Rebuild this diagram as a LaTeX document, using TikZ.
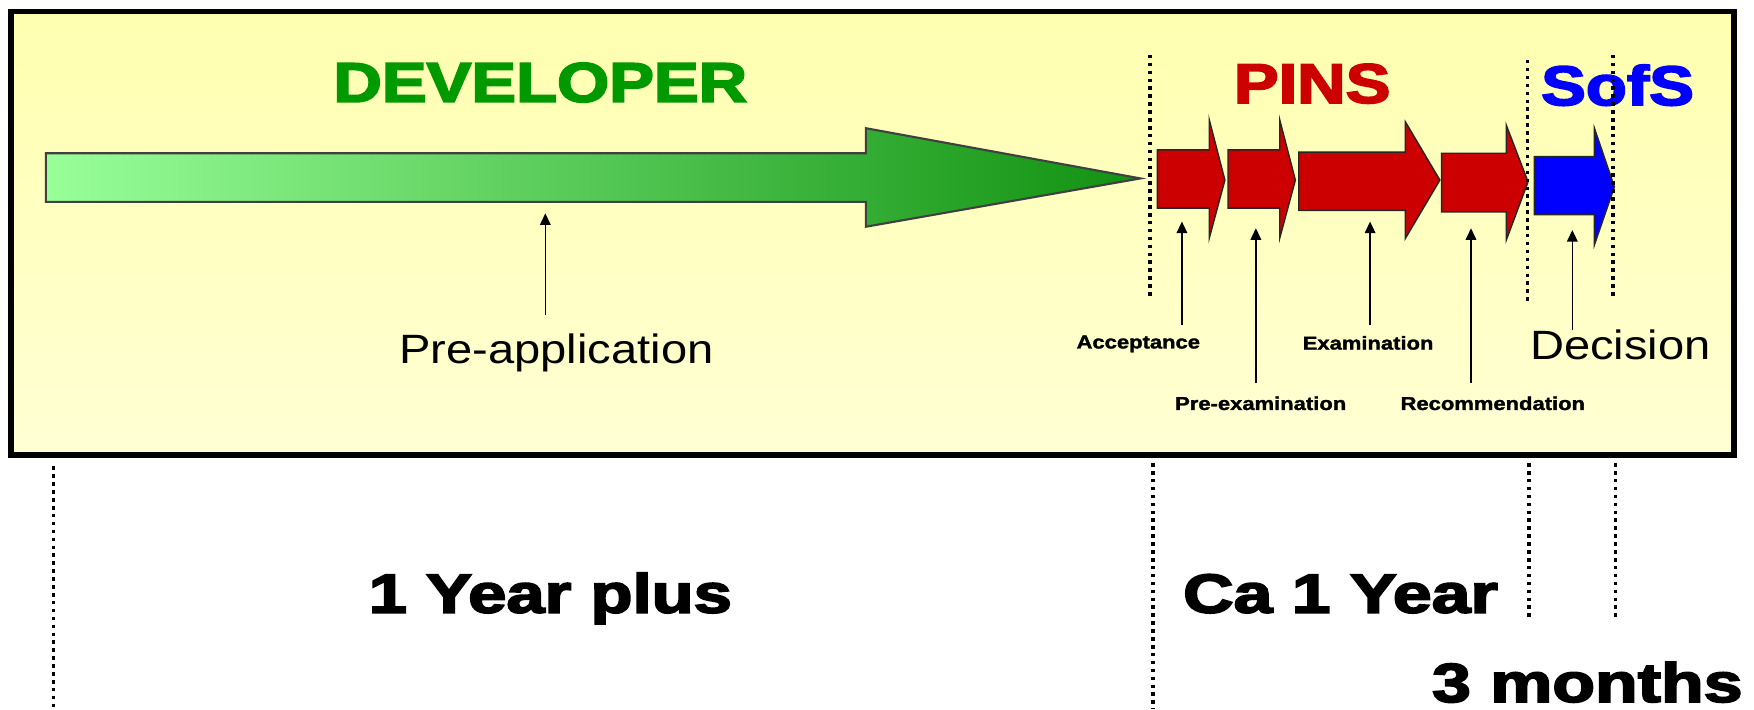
\documentclass[tikz,border=0pt]{standalone}
\usepackage{fontspec}
\usepackage{graphicx}
\setmainfont{Liberation Sans}
\newfontfamily\heavyfont{Liberation Sans Bold}[FakeBold=3]
\newfontfamily\semiheavyfont{Liberation Sans Bold}[FakeBold=1.5]
\usetikzlibrary{arrows.meta}
\newcommand{\sxt}[2]{\scalebox{#1}[1]{#2}}
\definecolor{devgreen}{RGB}{0,153,0}
\definecolor{pinsred}{RGB}{204,0,0}
\definecolor{sofsblue}{RGB}{0,0,255}
\definecolor{bgtop}{RGB}{255,255,176}
\definecolor{bgbot}{RGB}{255,255,212}
\definecolor{glight}{RGB}{153,255,153}
\definecolor{gdark}{RGB}{17,145,17}
\begin{document}
\begin{tikzpicture}[x=0.011186cm,y=-0.011186cm,
  heading/.style={anchor=base,inner sep=0pt,font=\fontsize{15.9}{18}\selectfont\heavyfont},
  period/.style={anchor=base,inner sep=0pt,font=\fontsize{15.65}{18}\selectfont\heavyfont},
  biglabel/.style={anchor=base,inner sep=0pt,font=\fontsize{11.65}{14}\selectfont},
  smalllabel/.style={anchor=base,inner sep=0pt,font=\fontsize{5.3}{6.5}\selectfont\semiheavyfont},
  ptr/.style={line width=0.45pt,-{Triangle[length=3.3pt,width=3pt]}},
  divider/.style={line width=1pt,dash pattern=on 1pt off 1.25pt},
  redblock/.style={fill=pinsred,draw=black!85,line width=0.4pt},
  blueblock/.style={fill=sofsblue,draw=black!85,line width=0.4pt},
  greenblock/.style={left color=glight,right color=gdark,draw=black!75,line width=0.6pt}]
\useasboundingbox (0,0) rectangle (1568,634);
% frame
\path[top color=bgtop,bottom color=bgbot] (10,10.4) rectangle (1550,406.7);
\draw[line width=1.6pt] (10,10.4) rectangle (1550,406.7);

% headings
\node[heading,text=devgreen] (dev) at (483,91) {\sxt{1.2}{DEVELOPER}};
\node[heading,text=pinsred] (pins) at (1173,92) {\sxt{1.2}{PINS}};
\node[heading,text=sofsblue] (sofs) at (1446,94) {\sxt{1.2}{SofS}};

% green developer arrow
\path[greenblock] (41,137) -- (774,137) -- (774,114.6) -- (1019.5,159.5) -- (774,202.7) -- (774,180.5) -- (41,180.5) -- cycle;

% red PINS arrows
\path[redblock] (1034.7,134) -- (1081,134) -- (1081,107) -- (1095,161) -- (1081,213) -- (1081,186) -- (1034.7,186) -- cycle;
\path[redblock] (1097.8,134) -- (1144,134) -- (1144,107) -- (1158,161) -- (1144,213) -- (1144,186) -- (1097.8,186) -- cycle;
\path[redblock] (1161,136) -- (1256.4,136) -- (1256.4,109) -- (1287.2,161) -- (1256.4,213) -- (1256.4,188) -- (1161,188) -- cycle;
\path[redblock] (1288.7,137) -- (1346.6,137) -- (1346.6,112) -- (1366,162.5) -- (1346.6,214.5) -- (1346.6,189.5) -- (1288.7,189.5) -- cycle;
% blue SofS arrow
\path[blueblock] (1371.5,140) -- (1425.3,140) -- (1425.3,114.5) -- (1443.2,167) -- (1425.3,219) -- (1425.3,192) -- (1371.5,192) -- cycle;

% dividers inside frame
\coordinate (d1t) at (1028,49);   \coordinate (d1b) at (1028,266.6);
\coordinate (d2t) at (1365.5,53.6); \coordinate (d2b) at (1365.5,271);
\coordinate (d3t) at (1442,49);   \coordinate (d3b) at (1442,266.6);
\draw[divider] (d1t) -- (d1b);
\draw[divider] (d2t) -- (d2b);
\draw[divider] (d3t) -- (d3b);

% dividers below frame
\coordinate (e0t) at (47.9,417);  \coordinate (e0b) at (47.9,634);
\coordinate (e1t) at (1030.7,414); \coordinate (e1b) at (1030.7,634);
\coordinate (e2t) at (1367,414);  \coordinate (e2b) at (1367,552.6);
\coordinate (e3t) at (1444,414);  \coordinate (e3b) at (1444,552.6);
\draw[divider] (e0t) -- (e0b);
\draw[divider] (e1t) -- (e1b);
\draw[divider] (e2t) -- (e2b);
\draw[divider] (e3t) -- (e3b);

% labels
\node[biglabel] (preapp) at (497.5,325) {\sxt{1.15}{Pre-application}};
\node[smalllabel] (acc) at (1017.6,311.5) {\sxt{1.18}{Acceptance}};
\node[smalllabel] (exam) at (1223,312.5) {\sxt{1.18}{Examination}};
\node[smalllabel] (preex) at (1127,366.5) {\sxt{1.18}{Pre-examination}};
\node[smalllabel] (rec) at (1334.5,366.5) {\sxt{1.18}{Recommendation}};
\node[biglabel] (dec) at (1448.5,321) {\sxt{1.15}{Decision}};

% pointer arrows
\coordinate (pa0) at (487.5,282);  \coordinate (pa1) at (487.5,190.7);
\coordinate (ac0) at (1056.6,290.5); \coordinate (ac1) at (1056.6,198);
\coordinate (pe0) at (1122.7,342.6); \coordinate (pe1) at (1122.7,204);
\coordinate (ex0) at (1224.8,290.5); \coordinate (ex1) at (1224.8,198);
\coordinate (re0) at (1315,342.6);   \coordinate (re1) at (1315,204);
\coordinate (de0) at (1405.6,295);   \coordinate (de1) at (1405.6,205.6);
\draw[ptr] (pa0) -- (pa1);
\draw[ptr] (ac0) -- (ac1);
\draw[ptr] (pe0) -- (pe1);
\draw[ptr] (ex0) -- (ex1);
\draw[ptr] (re0) -- (re1);
\draw[ptr] (de0) -- (de1);

% durations
\node[period] (y1) at (492,547.7) {\sxt{1.25}{1 Year plus}};
\node[period] (y2) at (1198.3,547.7) {\sxt{1.27}{Ca 1 Year}};
\node[period] (m3) at (1419,627.5) {\sxt{1.27}{3 months}};
\end{tikzpicture}
\end{document}
